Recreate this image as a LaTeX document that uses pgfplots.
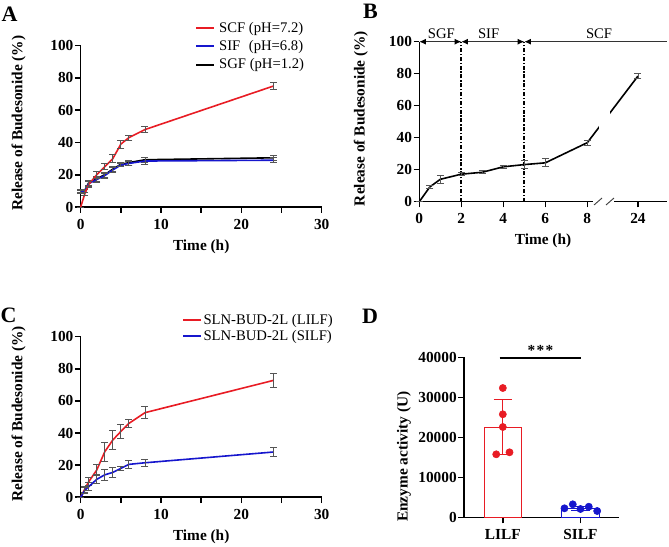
\documentclass[border=0pt]{standalone}
\usepackage{pgfplots}
\pgfplotsset{compat=1.18}
\usepackage{fontspec}
\setmainfont{Liberation Serif}
\usetikzlibrary{arrows.meta}
\definecolor{myred}{RGB}{232,28,36}
\definecolor{myblue}{RGB}{22,22,205}
\definecolor{ebar}{RGB}{85,85,85}
\pgfplotsset{
  gp/.style={
    scale only axis,
    axis x line*=bottom, axis y line*=left,
    axis line style={line width=1.2pt},
    tick style={line width=1.2pt, black},
    tick align=outside,
    major tick length=4.3pt, minor tick length=4.3pt,
    /pgf/number format/assume math mode=true,
    ticklabel style={font=\fontsize{11.5}{13}\selectfont\bfseries},
    label style={font=\fontsize{11.5}{13}\selectfont\bfseries},
    xticklabel style={inner sep=1pt, yshift=-3.5pt},
    yticklabel style={inner sep=1pt},
    clip=false,
  },
  eb/.style={
    /pgfplots/error bars/y dir=both,
    /pgfplots/error bars/y explicit,
    /pgfplots/error bars/error bar style={color=ebar, line width=0.6pt},
    /pgfplots/error bars/error mark options={rotate=90, mark size=2.6pt, line width=0.6pt, color=ebar},
  },
}
\begin{document}
\begin{tikzpicture}
\useasboundingbox (0pt,0pt) rectangle (501.75pt,410.25pt);
% panel letters
\node[font=\fontsize{16.5}{18}\selectfont\bfseries] at (7.125pt,399.75pt) {A};
\node[font=\fontsize{16.5}{18}\selectfont\bfseries] at (277.875pt,401.625pt) {B};
\node[font=\fontsize{16.5}{18}\selectfont\bfseries] at (6.375pt,174pt) {C};
\node[font=\fontsize{16.5}{18}\selectfont\bfseries] at (277.5pt,173.25pt) {D};

% ---------------- A ----------------
\begin{axis}[gp, at={(60.525pt,255pt)}, anchor=south west, width=180.75pt, height=120.98pt,
  xmin=0, xmax=30, ymin=0, ymax=100,
  xtick={0,10,20,30}, minor xtick={5,15,25}, ytick={0,20,...,100},
  xlabel={Time (h)}, ylabel={Release of Budesonide (\%)},
  xlabel style={at={(axis description cs:0.5,-0.246)}, anchor=center},
  ylabel style={at={(axis description cs:-0.258,0.52)}, anchor=center},
  reverse legend,
  legend image code/.code={\draw[#1, line width=1.5pt] (0pt,0pt) -- (13.5pt,0pt);},
  legend style={at={(axis description cs:0.474,0.995)}, anchor=west, draw=none, fill=none,
    font=\fontsize{11}{13}\selectfont, inner sep=0pt, row sep=1.5pt, nodes={inner sep=1.5pt},
    /tikz/column 2/.style={column sep=0pt, nodes={inner xsep=3pt}}},
  legend cell align=left,
]
\addplot[black, line width=1.2pt, eb] coordinates {
 (0,9.8) +- (0,1) (0.5,10.2) +- (0,1) (1,15) +- (0,1.5) (2,17.5) +- (0,1.5) (3,20) +- (0,1.5)
 (4,23.5) +- (0,1.5) (5,26.5) +- (0,1) (6,27.5) +- (0,1.5) (8,29.3) +- (0,1.5) (24,30.5) +- (0,1.5)};
\addlegendentry{SGF (pH=1.2)}
\addplot[myblue, line width=1.2pt, eb] coordinates {
 (0,9.5) +- (0,1) (0.5,10) +- (0,1) (1,14.5) +- (0,2) (2,17) +- (0,1.5) (3,19.5) +- (0,1.5)
 (4,23) +- (0,1.5) (5,26) +- (0,1) (6,27) +- (0,1.5) (8,28.5) +- (0,2) (24,29) +- (0,1.5)};
\addlegendentry{SIF\hspace{0.58em}(pH=6.8)}
\addplot[myred, line width=1.2pt, eb] coordinates {
 (0,0) +- (0,0) (0.5,8) +- (0,1) (1,14) +- (0,2) (2,20) +- (0,2) (3,25) +- (0,2)
 (4,30) +- (0,2.5) (5,39) +- (0,2.5) (6,43) +- (0,1.5) (8,48) +- (0,2) (24,75) +- (0,2)};
\addlegendentry{SCF (pH=7.2)}
\end{axis}

% ---------------- B ----------------
\begin{axis}[gp, at={(314.475pt,258.975pt)}, anchor=south west, width=185.55pt, height=120pt,
  xmin=0, xmax=11.78, ymin=0, ymax=100,
  xtick={0,2,4,6,8,10.41}, xticklabels={0,2,4,6,8,24}, ytick={0,20,...,100},
  xlabel={Time (h)}, ylabel={Release of Budesonide (\%)},
  xlabel style={at={(axis description cs:0.5,-0.246)}, anchor=center},
  ylabel style={at={(axis description cs:-0.236,0.52)}, anchor=center},
  after end axis/.code={
    \fill[white] (axis cs:8.57,30) rectangle (axis cs:9.08,70);
    \fill[white] (axis cs:8.29,-1.3) rectangle (axis cs:9.27,1.3);
    \draw[black!75, line width=0.7pt] (axis cs:8.32,-2.06) -- (axis cs:8.70,2.3);
    \draw[black!75, line width=0.7pt] (axis cs:8.89,-2.06) -- (axis cs:9.27,2.3);
  },
]
\draw[line width=1.3pt, dash pattern=on 3pt off 1.3pt on 1pt off 1.3pt] (axis cs:2,0) -- (axis cs:2,100);
\draw[line width=1.3pt, dash pattern=on 3pt off 1.3pt on 1pt off 1.3pt] (axis cs:5,0) -- (axis cs:5,100);
\draw[black!80, line width=0.7pt, {Latex[length=5pt,width=4.5pt,black]}-{Latex[length=5pt,width=4.5pt,black]}] (axis cs:0,100) -- (axis cs:2,100);
\draw[black!80, line width=0.7pt, {Latex[length=5pt,width=4.5pt,black]}-{Latex[length=5pt,width=4.5pt,black]}] (axis cs:2,100) -- (axis cs:5,100);
\draw[black!80, line width=0.7pt, {Latex[length=5pt,width=4.5pt,black]}-] (axis cs:5,100) -- (axis cs:11.78,100);
\node[anchor=south, inner sep=2pt, font=\fontsize{11}{13}\selectfont] at (axis cs:1.05,100) {SGF};
\node[anchor=south, inner sep=2pt, font=\fontsize{11}{13}\selectfont] at (axis cs:3.3,100) {SIF};
\node[anchor=south, inner sep=2pt, font=\fontsize{11}{13}\selectfont] at (axis cs:8.56,100) {SCF};
\addplot[black, line width=1.2pt, eb] coordinates {
 (0,0) +- (0,0) (0.5,9.2) +- (0,1) (1,14) +- (0,2.5) (2,17.2) +- (0,1) (3,18.4) +- (0,1)
 (4,21.8) +- (0,1) (5,23.2) +- (0,2.5) (6,24.3) +- (0,2.5) (8,36.9) +- (0,1.5) (10.41,78.5) +- (0,1.5)};
\end{axis}

% ---------------- C ----------------
\begin{axis}[gp, at={(60.525pt,37.275pt)}, anchor=south west, width=180.75pt, height=120.45pt,
  xmin=0, xmax=30, ymin=0, ymax=100,
  xtick={0,10,20,30}, minor xtick={5,15,25}, ytick={0,20,...,100},
  xlabel={Time (h)}, ylabel={Release of Budesonide (\%)},
  xlabel style={at={(axis description cs:0.5,-0.247)}, anchor=center},
  ylabel style={at={(axis description cs:-0.258,0.52)}, anchor=center},
  legend image code/.code={\draw[#1, line width=1.5pt] (0pt,0pt) -- (13pt,0pt);},
  legend style={at={(axis description cs:0.42,1.052)}, anchor=west, draw=none, fill=none,
    font=\fontsize{11}{13}\selectfont, inner sep=0pt, row sep=0pt, nodes={inner sep=1.5pt}},
  legend cell align=left,
]
\addplot[myred, line width=1.2pt, eb] coordinates {
 (0,0) +- (0,0) (0.5,5) +- (0,2) (1,9.7) +- (0,2.6) (2,17) +- (0,3.4) (3,28.4) +- (0,6)
 (4,35.7) +- (0,5.7) (5,41) +- (0,4.2) (6,46) +- (0,2.5) (8,52.7) +- (0,3.6) (24,72.8) +- (0,4.5)};
\addlegendentry{SLN-BUD-2L (LILF)}
\addplot[myblue, line width=1.2pt, eb] coordinates {
 (0,0) +- (0,0) (0.5,4.2) +- (0,2) (1,6.6) +- (0,2.5) (2,11.2) +- (0,2.8) (3,14) +- (0,3.6)
 (4,15.5) +- (0,3) (5,18) +- (0,1.3) (6,20.5) +- (0,2.3) (8,21.5) +- (0,2) (24,28.2) +- (0,3)};
\addlegendentry{SLN-BUD-2L (SILF)}
\end{axis}

% ---------------- D ----------------
\begin{axis}[gp, at={(348pt,21.975pt)}, anchor=south west, width=116.48pt, height=120.3pt,
  xmin=-0.5, xmax=1.5, ymin=0, ymax=40000,
  xtick={0,1}, xticklabels={LILF,SILF}, ytick={0,10000,...,40000},
  scaled y ticks=false, yticklabel style={/pgf/number format/1000 sep={}},
  ylabel={Enzyme activity (U)},
  ylabel style={at={(axis description cs:-0.386,0.38)}, anchor=center},
]
\addplot[ybar, bar width=0.485, bar shift=0pt, draw=myred, fill=white, line width=0.6pt,
  error bars/.cd, y dir=both, y explicit, error bar style={color=myred, line width=0.8pt},
  error mark options={rotate=90, mark size=6.9pt, line width=0.8pt, color=myred}]
  coordinates {(0,22560) +- (0,6880)};
\addplot[ybar, bar width=0.485, bar shift=0pt, draw=myblue, fill=white, line width=0.6pt,
  error bars/.cd, y dir=both, y explicit, error bar style={color=myblue, line width=0.8pt},
  error mark options={rotate=90, mark size=6.9pt, line width=0.8pt, color=myblue}]
  coordinates {(1,2300) +- (0,600)};
\addplot[only marks, mark=*, mark size=2.7pt, color=myred] coordinates {
 (0,32340) (0,25790) (0,22620) (-0.085,15810) (0.086,16310)};
\addplot[only marks, mark=*, mark size=2.7pt, color=myblue] coordinates {
 (0.794,2340) (0.901,3340) (1,2170) (1.107,2740) (1.215,1670)};
\draw[line width=1.5pt] (axis cs:-0.04,39750) -- (axis cs:1.01,39750);
\node[anchor=base, inner sep=0pt, font=\fontsize{11.5}{13}\selectfont\bfseries] at (axis cs:0.485,40500) {*\kern1pt*\kern1pt*};
\end{axis}
\end{tikzpicture}
\end{document}
